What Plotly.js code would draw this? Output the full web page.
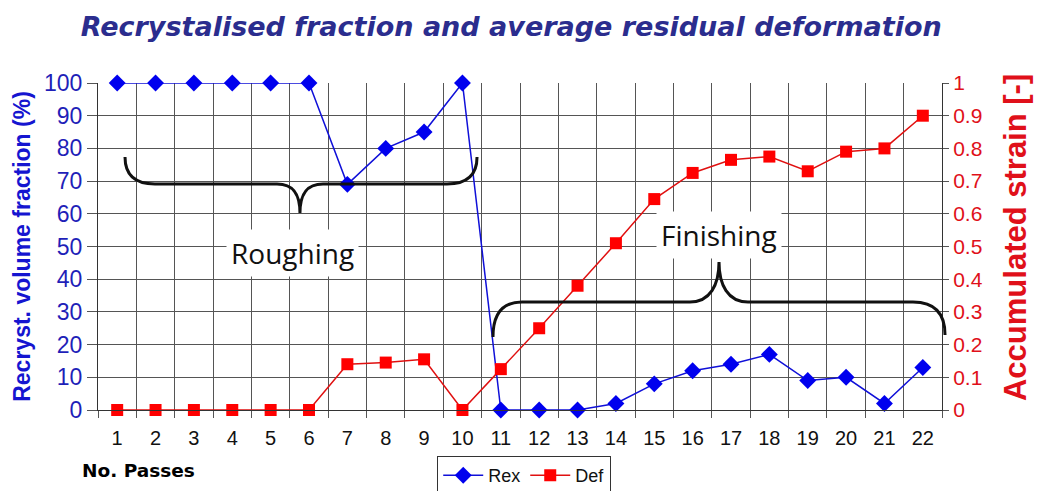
<!DOCTYPE html>
<html>
<head>
<meta charset="utf-8">
<script src="https://cdn.plot.ly/plotly-3.0.1.min.js"></script>
<style>html,body{margin:0;padding:0;background:#fff;}#chart{width:1037px;height:491px;}</style>
</head>
<body>
<div id="chart"></div>
<script>
// ---- data ----
var passes = ["1","2","3","4","5","6","7","8","9","10","11","12","13","14","15","16","17","18","19","20","21","22"];
var rex = [100,100,100,100,100,100,69,80,85,100,0,0,0,2,8,12,14,17,9,10,2,13];
var def = [0,0,0,0,0,0,0.14,0.145,0.155,0,0.125,0.25,0.38,0.51,0.645,0.725,0.765,0.775,0.73,0.79,0.8,0.9];
var leftTicks = [0,10,20,30,40,50,60,70,80,90,100];
var rightTicks = [0,0.1,0.2,0.3,0.4,0.5,0.6,0.7,0.8,0.9,1];

// ---- layout geometry (pixels) ----
var W = 1037, H = 491;
var M = {l: 98, r: 95, t: 83, b: 81, autoexpand: false};
var PW = W - M.l - M.r, PH = H - M.t - M.b;
function px(x){ return ((x - M.l) / PW).toFixed(4); }
function py(y){ return ((H - M.b - y) / PH).toFixed(4); }
function P(x, y){ return px(x) + ',' + py(y); }

var roughBrace = 'M ' + P(125,157) + ' Q ' + P(125,184) + ' ' + P(155,184) +
  ' L ' + P(277,184) + ' C ' + P(294,184) + ' ' + P(300,195) + ' ' + P(300,213) +
  ' C ' + P(300,195) + ' ' + P(306,184) + ' ' + P(323,184) +
  ' L ' + P(447,184) + ' Q ' + P(477,184) + ' ' + P(477,157);
var finishBrace = 'M ' + P(493,337) + ' Q ' + P(493,302) + ' ' + P(522,302) +
  ' L ' + P(690,302) + ' C ' + P(710,302) + ' ' + P(719,285) + ' ' + P(719,262) +
  ' C ' + P(719,285) + ' ' + P(728,302) + ' ' + P(748,302) +
  ' L ' + P(913,302) + ' Q ' + P(945,302) + ' ' + P(945,335);

var traces = [
  {x: passes, y: rex, name: 'Rex', type: 'scatter', mode: 'lines+markers', yaxis: 'y', cliponaxis: false,
   line: {color: '#1010D8', width: 1.5}, marker: {symbol: 'diamond', size: 13, color: '#0000EE'}},
  {x: passes, y: def, name: 'Def', type: 'scatter', mode: 'lines+markers', yaxis: 'y2', cliponaxis: false,
   line: {color: '#E01010', width: 1.5}, marker: {symbol: 'square', size: 12, color: '#FF0000'}}
];

var layout = {
  width: W, height: H,
  margin: M,
  paper_bgcolor: '#fff', plot_bgcolor: '#fff',
  showlegend: true,
  font: {family: 'Liberation Sans, Arial, sans-serif', color: '#000'},
  title: {text: 'Recrystalised fraction and average residual deformation',
          font: {family: 'DejaVu Sans', size: 27, color: '#2B2D8E', weight: 'bold', style: 'italic'},
          x: 0.493, xanchor: 'center', y: 0.945, yanchor: 'middle'},
  xaxis: {type: 'category', range: [-0.5, 21.5], tickson: 'boundaries',
          showgrid: true, gridcolor: '#555', gridwidth: 1,
          ticks: 'outside', ticklen: 7, tickcolor: '#555', ticklabelstandoff: 10,
          showline: true, linecolor: '#333', linewidth: 1,
          tickfont: {size: 20, color: '#111'}, zeroline: false},
  yaxis: {range: [0, 100], tickvals: leftTicks, showgrid: true, gridcolor: '#555', gridwidth: 1,
          ticks: 'outside', ticklen: 10, tickcolor: '#555',
          showline: true, linecolor: '#333', linewidth: 1, zeroline: false,
          tickfont: {size: 23, color: '#1F1FB8'},
          title: {text: 'Recryst. volume fraction (%)', standoff: 6,
                  font: {size: 23, color: '#1515D0', weight: 'bold'}}},
  yaxis2: {range: [0, 1], tickvals: rightTicks, overlaying: 'y', side: 'right', showgrid: false,
           ticks: 'outside', ticklen: 6, tickcolor: '#555',
           showline: true, linecolor: '#333', linewidth: 1, zeroline: false,
           tickfont: {size: 21, color: '#E0101A'}},
  legend: {orientation: 'h', x: 0.505, xanchor: 'center', y: -0.141, yanchor: 'top',
           bordercolor: '#333', borderwidth: 1, bgcolor: '#fff',
           font: {size: 18, color: '#111'}, itemwidth: 40, tracegroupgap: 0},
  shapes: [
    {type: 'path', xref: 'paper', yref: 'paper', path: roughBrace, line: {color: '#111', width: 3}},
    {type: 'path', xref: 'paper', yref: 'paper', path: finishBrace, line: {color: '#111', width: 3}}
  ],
  annotations: [
    {xref: 'paper', yref: 'paper', x: +px(293), y: +py(253), text: 'Roughing', showarrow: false,
     font: {family: 'Open Sans', size: 28, color: '#111'}, bgcolor: '#fff', borderpad: 4, xanchor: 'center', yanchor: 'middle'},
    {xref: 'paper', yref: 'paper', x: +px(719), y: +py(235), text: 'Finishing', showarrow: false,
     font: {family: 'Open Sans', size: 28, color: '#111'}, bgcolor: '#fff', borderpad: 4, xanchor: 'center', yanchor: 'middle'},
    {xref: 'paper', yref: 'paper', x: +px(80), y: +py(470), text: 'No. Passes', showarrow: false,
     font: {family: 'DejaVu Sans', size: 18.5, color: '#000', weight: 'bold'}, xanchor: 'left', yanchor: 'middle'},
    {xref: 'paper', yref: 'paper', x: +px(1016), y: +py(238), text: 'Accumulated strain [-]', showarrow: false,
     textangle: -90, font: {size: 31, color: '#E0101A', weight: 'bold'}, xanchor: 'center', yanchor: 'middle'}
  ]
};

Plotly.newPlot('chart', traces, layout, {displayModeBar: false, staticPlot: true});
</script>
</body>
</html>
